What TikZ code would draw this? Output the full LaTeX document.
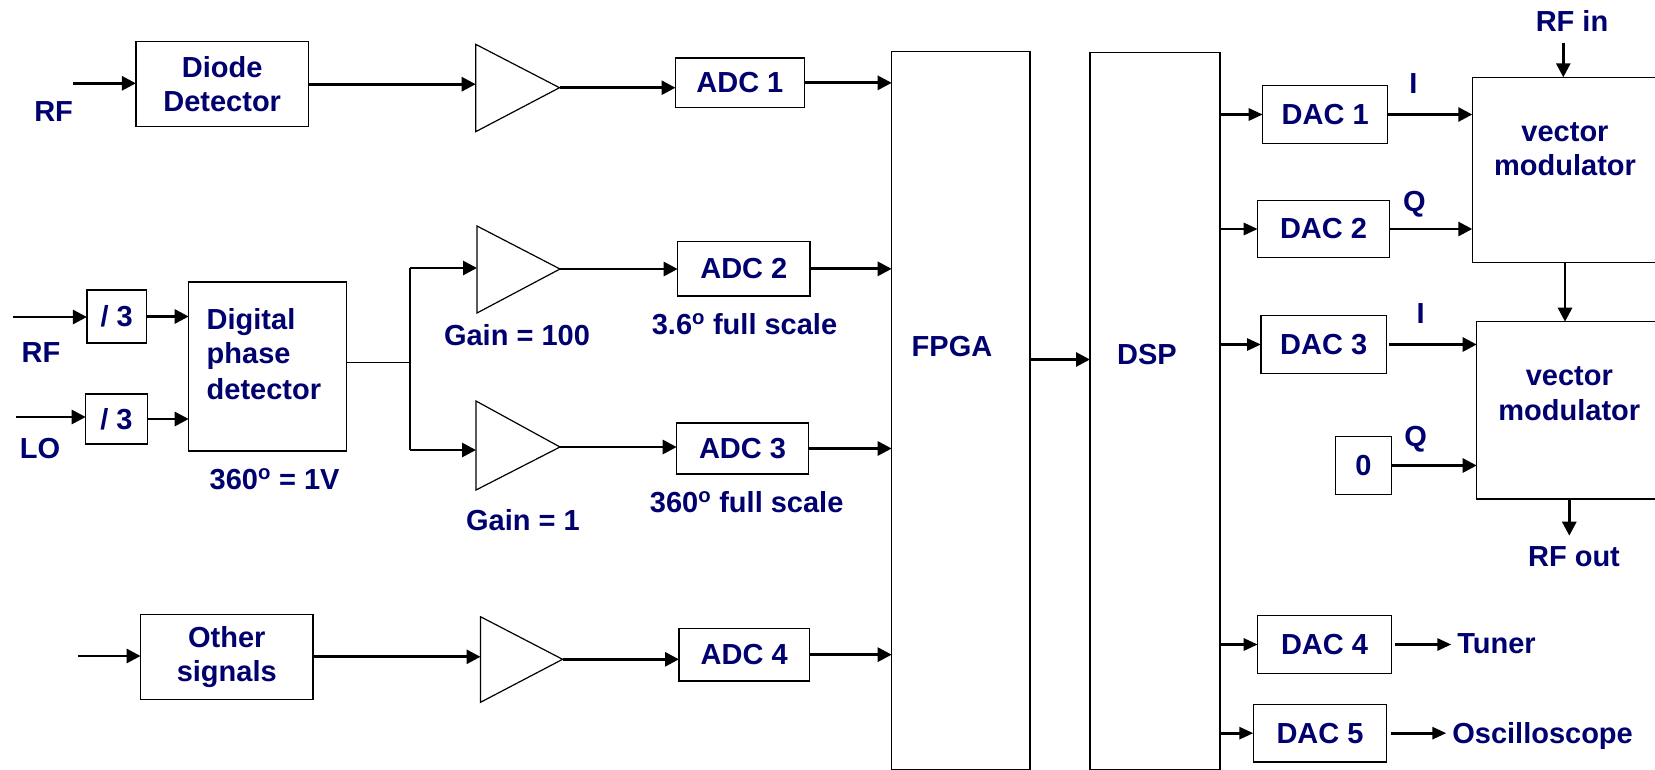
\documentclass[tikz,border=0pt]{standalone}
\usepackage{fontspec}
\setmainfont{Liberation Sans}
\usetikzlibrary{arrows.meta}
\definecolor{navy}{RGB}{0,0,110}
\newcommand\diagfont{\fontsize{29}{34}\selectfont\bfseries}
\begin{document}
\begin{tikzpicture}[x=1pt,y=-1pt,
  box/.style={draw, line width=1.3pt, inner sep=0pt, outer sep=0pt, font=\diagfont, text=navy, align=center},
  sz/.style 2 args={minimum width=#1, minimum height=#2},
  lbl/.style={inner sep=0pt, outer sep=0pt, font=\diagfont, text=navy, anchor=base},
  arr/.style={line width=2.8pt, -{Triangle[length=14pt,width=14pt]}},
  sarr/.style={line width=2.8pt, -{Triangle[length=14pt,width=12pt]}},
  ampl/.style={draw, line width=1.2pt, line join=miter}]
\useasboundingbox (0,0) rectangle (1655,769);
\clip (0,0) rectangle (1655,769);

% ---------- boxes ----------
\node[box, sz={172.6pt}{85pt}] (diode) at (222.2,84.2) {Diode\\Detector};
\node[box, sz={128.8pt}{49.7pt}] (adc1) at (739.9,82.85) {ADC 1};
\node[box, sz={59.7pt}{53pt}] (div1) at (116.75,316.5) {/ 3};
\node[box, sz={61.6pt}{50pt}] (div2) at (116.5,419) {/ 3};
\node[box, sz={157.6pt}{169pt}] (dpd) at (267.5,366.5) {};
\node[box, sz={132.3pt}{54.3pt}] (adc2) at (743.85,268.85) {ADC 2};
\node[box, sz={131.6pt}{51pt}] (adc3) at (742.5,448.5) {ADC 3};
\node[box, sz={172.3pt}{85pt}] (other) at (226.75,656.8) {Other\\signals};
\node[box, sz={130.4pt}{52.7pt}] (adc4) at (744.2,654.65) {ADC 4};
\node[box, sz={138.3pt}{718pt}] (fpga) at (960.85,410.5) {};
\node[box, sz={130pt}{717.2pt}] (dsp) at (1155,410.9) {};
\node[box, sz={125pt}{57.6pt}] (dac1) at (1325.2,114.5) {DAC 1};
\node[box, sz={131.6pt}{57.4pt}] (dac2) at (1323.5,229) {DAC 2};
\node[box, sz={125.3pt}{57.6pt}] (dac3) at (1323.65,344.5) {DAC 3};
\node[box, sz={56pt}{57.6pt}] (zero) at (1363.3,465.5) {0};
\node[box, sz={133.6pt}{57.6pt}] (dac4) at (1324.5,644.5) {DAC 4};
\node[box, sz={133.4pt}{57.7pt}] (dac5) at (1320,733.15) {DAC 5};
\node[box, sz={227.7pt}{185pt}] (vm1) at (1586.15,169.8) {};
\node[box, sz={223.3pt}{177.3pt}] (vm2) at (1588.35,410.35) {};

% ---------- amplifiers ----------
\draw[ampl] (475.7,44.3) -- (559.5,87.7) coordinate (amp1e) -- (475.7,131.7) -- cycle;
\coordinate (amp1w) at (475.7,87.7);
\draw[ampl] (477,226) -- (560,269) coordinate (amp2e) -- (477,313) -- cycle;
\coordinate (amp2w) at (477,269);
\draw[ampl] (476,401) -- (560,447) coordinate (amp3e) -- (476,490) -- cycle;
\coordinate (amp3w) at (476,447);
\draw[ampl] (480.5,616.7) -- (562.6,659.3) coordinate (amp4e) -- (480.5,702.3) -- cycle;
\coordinate (amp4w) at (480.5,659.3);

% ---------- labels ----------
\node[lbl] (lrf1) at (53.6,121) {RF};
\node[lbl] (lrf2) at (41,362) {RF};
\node[lbl] (llo) at (40,458) {LO};
\node[lbl, anchor=base west] (dpd1) at (206.7,329.3) {Digital};
\node[lbl, anchor=base west] (dpd2) at (206.7,363.3) {phase};
\node[lbl, anchor=base west] (dpd3) at (206.7,399) {detector};
\node[lbl] (l360) at (274.6,489) {360\textsuperscript{o} = 1V};
\node[lbl] (lg100) at (517,345) {Gain = 100};
\node[lbl] (lg1) at (523,530) {Gain = 1};
\node[lbl] (lfs1) at (744.5,334) {3.6\textsuperscript{o} full scale};
\node[lbl] (lfs2) at (746.7,512) {360\textsuperscript{o} full scale};
\node[lbl] (lfpga) at (952,356.5) {FPGA};
\node[lbl] (ldsp) at (1147,364) {DSP};
\node[lbl] (li1) at (1413.3,93.3) {I};
\node[lbl] (lq1) at (1414.3,211) {Q};
\node[lbl] (lrfin) at (1572,31.7) {RF in};
\node[lbl] (vm1a) at (1565,141.7) {vector};
\node[lbl] (vm1b) at (1565,175) {modulator};
\node[lbl] (li2) at (1420.7,323.3) {I};
\node[lbl] (lq2) at (1415.7,446) {Q};
\node[lbl] (vm2a) at (1569.3,385) {vector};
\node[lbl] (vm2b) at (1569.3,420) {modulator};
\node[lbl] (lrfout) at (1574,566.7) {RF out};
\node[lbl, anchor=base west] (tuner) at (1457.3,653.3) {Tuner};
\node[lbl, anchor=base west] (osc) at (1452.3,743) {Oscilloscope};

% ---------- connectors ----------
\coordinate (rf1) at (72.7,83.3);
\draw[arr] (rf1) -- (rf1 -| diode.west);
\draw[arr] (diode.east) -- (diode.east -| amp1w);
\draw[arr] (amp1e) -- (amp1e -| adc1.west);
\draw[arr] (adc1.east) -- (adc1.east -| fpga.west);

\coordinate (rf2) at (13,317);
\draw[arr] (rf2) -- (rf2 -| div1.west);
\coordinate (lo) at (16,417);
\draw[arr] (lo) -- (lo -| div2.west);
\draw[arr] (div1.east) -- (div1.east -| dpd.west);
\draw[arr] (div2.east) -- (div2.east -| dpd.west);
\coordinate (split) at (410,362);
\draw[line width=1pt] (split -| dpd.east) -- (split);
\coordinate (s1) at (410,268);
\coordinate (s2) at (410,450);
\draw[line width=1.5pt] (s1) -- (s2);
\draw[arr] (s1) -- (s1 -| amp2w);
\draw[arr] (s2) -- (s2 -| amp3w);
\draw[arr] (amp2e) -- (amp2e -| adc2.west);
\draw[arr] (amp3e) -- (amp3e -| adc3.west);
\draw[arr] (adc2.east) -- (adc2.east -| fpga.west);
\draw[arr] (adc3.east) -- (adc3.east -| fpga.west);

\coordinate (oin) at (77.5,656);
\draw[arr] (oin) -- (oin -| other.west);
\draw[arr] (other.east) -- (other.east -| amp4w);
\draw[arr] (amp4e) -- (amp4e -| adc4.west);
\draw[arr] (adc4.east) -- (adc4.east -| fpga.west);

\coordinate (fd) at (1030,359.5);
\draw[arr] (fd) -- (fd -| dsp.west);

\draw[sarr] (dac1.west -| dsp.east) -- (dac1.west);
\draw[sarr] (dac2.west -| dsp.east) -- (dac2.west);
\draw[sarr] (dac3.west -| dsp.east) -- (dac3.west);
\draw[sarr] (dac4.west -| dsp.east) -- (dac4.west);
\draw[sarr] (dac5.west -| dsp.east) -- (dac5.west);

\draw[arr] (dac1.east) -- (dac1.east -| vm1.west);
\draw[arr] (dac2.east) -- (dac2.east -| vm1.west);
\draw[arr, shorten <=3pt] (dac3.east) -- (dac3.east -| vm2.west);
\draw[arr] (zero.east) -- (zero.east -| vm2.west);

\coordinate (rfin) at (1563.3,42.7);
\draw[arr] (rfin) -- (rfin |- vm1.north);
\coordinate (v12) at (1565,290);
\draw[arr] (v12 |- vm1.south) -- (v12 |- vm2.north);
\coordinate (rfout) at (1569.3,535.7);
\draw[arr] (rfout |- vm2.south) -- (rfout);

\draw[sarr, shorten <=4pt, shorten >=6pt] (dac4.east) -- (dac4.east -| tuner.west);
\draw[sarr, shorten <=4pt, shorten >=6pt] (dac5.east) -- (dac5.east -| osc.west);
\end{tikzpicture}
\end{document}
